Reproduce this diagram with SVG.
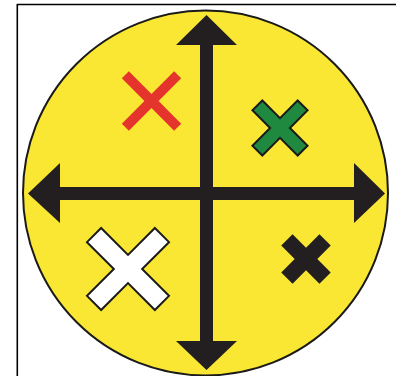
<svg xmlns="http://www.w3.org/2000/svg" width="397" height="376" viewBox="0 0 397 376">
  <defs>
    <style>
      .frame { stroke: #000; stroke-width: 1.6; fill: none; }
      .disc { fill: #f9e733; stroke: #1a1a1a; stroke-width: 2; }
      .arrow { fill: #231f20; }
      .outlined { stroke: #1a1a1a; stroke-width: 2; stroke-linejoin: miter; }
    </style>
  </defs>
  <rect width="397" height="376" fill="#ffffff"/>
  <g id="frame">
    <line class="frame" x1="17" y1="4.5" x2="396" y2="4.5"/>
    <line class="frame" x1="17.3" y1="4" x2="17.3" y2="376"/>
  </g>
  <g id="circle">
    <circle class="disc" cx="205.5" cy="193" r="182.5"/>
  </g>
  <g id="connectors">
    <polygon class="arrow" points="200,45 176,45 206.5,15 237,45 213,45 213,341 237,341 206.5,370 176,341 200,341"/>
    <polygon class="arrow" points="60,187 60,163 28,193.5 60,223 60,200 354,200 354,223 385,193.5 354,163 354,187"/>
  </g>
  <g id="red-x" transform="translate(151.5,101) rotate(45)">
    <polygon fill="#e5342c" points="-5,-37 5,-37 5,-5 37,-5 37,5 5,5 5,37 -5,37 -5,5 -37,5 -37,-5 -5,-5"/>
  </g>
  <g id="green-x" transform="translate(280,128) rotate(45)">
    <polygon class="outlined" fill="#1f8a3f" points="-7,-32 7,-32 7,-7 32,-7 32,7 7,7 7,32 -7,32 -7,7 -32,7 -32,-7 -7,-7"/>
  </g>
  <g id="white-x" transform="translate(128,269) rotate(45)">
    <polygon class="outlined" fill="#ffffff" points="-10,-48 10,-48 10,-10 48,-10 48,10 10,10 10,48 -10,48 -10,10 -48,10 -48,-10 -10,-10"/>
  </g>
  <g id="black-x" transform="translate(306,259) rotate(45)">
    <polygon fill="#231f20" points="-8,-27 8,-27 8,-8 27,-8 27,8 8,8 8,27 -8,27 -8,8 -27,8 -27,-8 -8,-8"/>
  </g>
</svg>
